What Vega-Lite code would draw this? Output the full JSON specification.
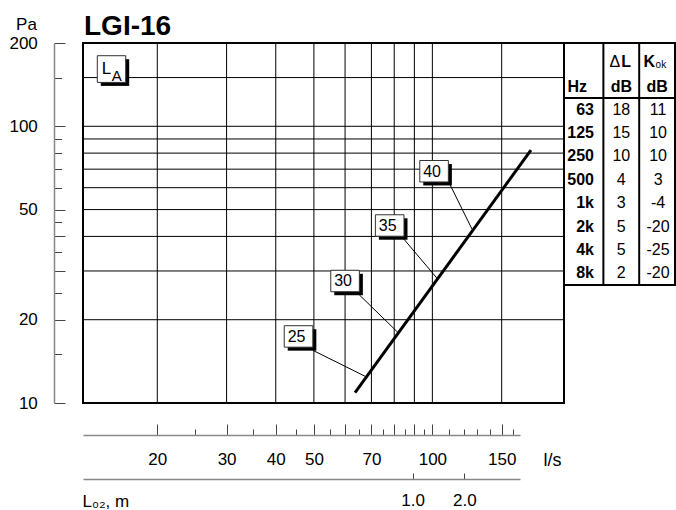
{
  "$schema": "https://vega.github.io/schema/vega-lite/v6.json",
  "background": "white",
  "padding": {"left": 7, "top": 12, "right": 0, "bottom": 3},
  "spacing": 0,
  "bounds": "flush",
  "datasets": {
    "gridQ": [{"Q": 20}, {"Q": 30}, {"Q": 40}, {"Q": 50}, {"Q": 60}, {"Q": 70}, {"Q": 80}, {"Q": 90}, {"Q": 100}, {"Q": 150}],
    "gridP": [{"P": 20}, {"P": 30}, {"P": 40}, {"P": 50}, {"P": 60}, {"P": 70}, {"P": 80}, {"P": 90}, {"P": 100}, {"P": 150}],
    "curve": [{"Q": 63.6, "P": 10.9}, {"Q": 178, "P": 82}],
    "tags": [
      {"tag": "25", "Q": 45.7, "P": 17.4, "Qa": 49.7, "Pa": 15.5, "Qb": 67.4, "Pb": 12.5},
      {"tag": "30", "Q": 60.0, "P": 27.6, "Qa": 65.2, "Pa": 24.6, "Qb": 81.7, "Pb": 18.0},
      {"tag": "35", "Q": 77.9, "P": 43.8, "Qa": 84.4, "Pa": 39.3, "Qb": 102.6, "Pb": 28.3},
      {"tag": "40", "Q": 101, "P": 68.8, "Qa": 110.9, "Pa": 61.5, "Qb": 126.1, "Pb": 42.5}
    ],
    "la": [{"Q": 15.3, "P": 161, "main": "L", "sub": "A"}],
    "table": [
      {"hz": "63", "dL": "18", "kok": "11"},
      {"hz": "125", "dL": "15", "kok": "10"},
      {"hz": "250", "dL": "10", "kok": "10"},
      {"hz": "500", "dL": "4", "kok": "3"},
      {"hz": "1k", "dL": "3", "kok": "-4"},
      {"hz": "2k", "dL": "5", "kok": "-20"},
      {"hz": "4k", "dL": "5", "kok": "-25"},
      {"hz": "8k", "dL": "2", "kok": "-20"}
    ],
    "dividers": [{"c": "dL"}, {"c": "Kok"}]
  },
  "hconcat": [
    {
      "width": 481,
      "height": 360,
      "title": {"text": "LGI-16", "anchor": "start", "frame": "group", "fontSize": 28, "fontWeight": "bold", "color": "black", "baseline": "alphabetic", "offset": -48, "dx": 1},
      "resolve": {"axis": {"x": "independent", "y": "independent"}},
      "layer": [
        {
          "data": {"name": "gridQ"},
          "mark": {"type": "rule", "color": "black", "strokeWidth": 1},
          "encoding": {
            "x": {
              "field": "Q", "type": "quantitative",
              "scale": {"type": "log", "domain": [12.95, 216], "nice": false},
              "axis": {
                "orient": "bottom", "offset": 32, "grid": false,
                "values": [20, 25, 30, 35, 40, 45, 50, 55, 60, 65, 70, 75, 80, 85, 90, 95, 100, 110, 120, 130, 140, 150, 160],
                "labelExpr": "indexof([20,30,40,50,70,100,150], datum.value) >= 0 ? '' + datum.value : ''",
                "tickSize": {"condition": {"test": "indexof([20,30,40,50,60,70,80,90,100,150], datum.value) >= 0", "value": -11}, "value": -6},
                "tickColor": "#444", "tickWidth": 1,
                "domainColor": "#888", "domainWidth": 1.5, "domainDash": [437, 300],
                "labelPadding": 27.3, "labelFontSize": 17, "labelBaseline": "top", "labelAlign": "center",
                "labelOverlap": false, "labelFlush": false, "labelBound": false,
                "title": "l/s", "titleX": 460, "titleY": 30, "titleAlign": "left", "titleBaseline": "alphabetic", "titleAngle": 0,
                "titleFontSize": 18, "titleFontWeight": "normal", "titlePadding": 0
              }
            }
          }
        },
        {
          "data": {"name": "gridP"},
          "mark": {"type": "rule", "color": "black", "strokeWidth": 1},
          "encoding": {
            "y": {
              "field": "P", "type": "quantitative",
              "scale": {"type": "log", "domain": [10, 200], "nice": false},
              "axis": {
                "orient": "left", "offset": 29, "grid": false,
                "values": [10, 15, 20, 25, 30, 35, 40, 45, 50, 60, 70, 80, 90, 100, 150, 200],
                "labelExpr": "indexof([10,20,50,100,200], datum.value) >= 0 ? '' + datum.value : ''",
                "tickSize": {"condition": {"test": "indexof([10,20,30,40,50,100,200], datum.value) >= 0", "value": -11}, "value": -7.5},
                "tickColor": "#444", "tickWidth": 1,
                "domainColor": "#888", "domainWidth": 1.5,
                "labelPadding": 27.7, "labelFontSize": 17, "labelAlign": "right", "labelBaseline": "middle",
                "labelOverlap": false, "labelFlush": false, "labelBound": false,
                "title": "Pa", "titleAngle": 0, "titleX": -28, "titleY": -19, "titleAlign": "center", "titleBaseline": "middle",
                "titleFontSize": 17, "titleFontWeight": "normal", "titlePadding": 0
              }
            }
          }
        },
        {
          "data": {"name": "curve"},
          "mark": {"type": "line", "color": "black", "strokeWidth": 3},
          "encoding": {
            "x": {
              "field": "Q", "type": "quantitative",
              "axis": {
                "orient": "bottom", "offset": 76, "grid": false,
                "values": [89.1, 120.6],
                "labelExpr": "datum.value < 100 ? '1.0' : '2.0'",
                "tickSize": -6, "tickColor": "#444", "tickWidth": 1,
                "domainColor": "#888", "domainWidth": 1.5, "domainDash": [437, 300],
                "labelPadding": 19.8, "labelFontSize": 17, "labelBaseline": "top", "labelAlign": "center",
                "labelOverlap": false, "labelFlush": false, "labelBound": false,
                "title": "L₀₂, m", "titleX": -1, "titleY": 27, "titleAlign": "left", "titleBaseline": "alphabetic", "titleAngle": 0,
                "titleFontSize": 17, "titleFontWeight": "normal", "titlePadding": 0
              }
            },
            "y": {"field": "P", "type": "quantitative", "axis": null}
          }
        },
        {
          "data": {"name": "tags"},
          "mark": {"type": "rule", "color": "black", "strokeWidth": 1},
          "encoding": {
            "x": {"field": "Qa", "type": "quantitative", "axis": null},
            "y": {"field": "Pa", "type": "quantitative", "axis": null},
            "x2": {"field": "Qb"},
            "y2": {"field": "Pb"}
          }
        },
        {
          "data": {"name": "tags"},
          "mark": {"type": "point", "shape": "M-0.755,-0.505L1.245,-0.505L1.245,0.995L-0.755,0.995Z", "size": 818, "filled": true, "fill": "black", "strokeWidth": 0, "opacity": 1},
          "encoding": {
            "x": {"field": "Q", "type": "quantitative", "axis": null},
            "y": {"field": "P", "type": "quantitative", "axis": null}
          }
        },
        {
          "data": {"name": "tags"},
          "mark": {"type": "point", "shape": "M-1,-0.75L1,-0.75L1,0.75L-1,0.75Z", "size": 818, "filled": true, "fill": "white", "stroke": "#333", "strokeWidth": 1, "opacity": 1},
          "encoding": {
            "x": {"field": "Q", "type": "quantitative", "axis": null},
            "y": {"field": "P", "type": "quantitative", "axis": null}
          }
        },
        {
          "data": {"name": "tags"},
          "mark": {"type": "text", "fontSize": 16, "dx": -2, "dy": 0.5, "color": "black"},
          "encoding": {
            "x": {"field": "Q", "type": "quantitative", "axis": null},
            "y": {"field": "P", "type": "quantitative", "axis": null},
            "text": {"field": "tag"}
          }
        },
        {
          "data": {"name": "la"},
          "mark": {"type": "point", "shape": "M-0.755,-0.695L1.245,-0.695L1.245,1.185L-0.755,1.185Z", "size": 807, "filled": true, "fill": "black", "strokeWidth": 0, "opacity": 1},
          "encoding": {
            "x": {"field": "Q", "type": "quantitative", "axis": null},
            "y": {"field": "P", "type": "quantitative", "axis": null}
          }
        },
        {
          "data": {"name": "la"},
          "mark": {"type": "point", "shape": "M-1,-0.94L1,-0.94L1,0.94L-1,0.94Z", "size": 807, "filled": true, "fill": "white", "stroke": "#333", "strokeWidth": 1, "opacity": 1},
          "encoding": {
            "x": {"field": "Q", "type": "quantitative", "axis": null},
            "y": {"field": "P", "type": "quantitative", "axis": null}
          }
        },
        {
          "data": {"name": "la"},
          "mark": {"type": "text", "fontSize": 17, "dx": -5, "dy": 0.3, "color": "black"},
          "encoding": {
            "x": {"field": "Q", "type": "quantitative", "axis": null},
            "y": {"field": "P", "type": "quantitative", "axis": null},
            "text": {"field": "main"}
          }
        },
        {
          "data": {"name": "la"},
          "mark": {"type": "text", "fontSize": 15, "dx": 5.2, "dy": 6.8, "color": "black"},
          "encoding": {
            "x": {"field": "Q", "type": "quantitative", "axis": null},
            "y": {"field": "P", "type": "quantitative", "axis": null},
            "text": {"field": "sub"}
          }
        }
      ]
    },
    {
      "vconcat": [
        {
          "width": 111,
          "height": 55,
          "layer": [
            {
              "data": {"name": "dividers"},
              "mark": {"type": "rule", "color": "black", "strokeWidth": 2},
              "encoding": {
                "x": {"field": "c", "type": "nominal", "bandPosition": 0, "axis": null,
                      "scale": {"type": "band", "domain": ["Hz", "dL", "Kok"], "paddingInner": 0, "paddingOuter": 0.05, "align": 1}}
              }
            },
            {
              "data": {"values": [{"t": "Hz", "c": "Hz"}]},
              "mark": {"type": "text", "fontSize": 16, "fontWeight": "bold", "align": "left", "dx": -18, "dy": 2.9},
              "encoding": {
                "x": {"field": "c", "type": "nominal", "axis": null},
                "y": {"datum": "h2", "type": "ordinal", "axis": null, "scale": {"type": "band", "domain": ["h1", "h2"], "paddingInner": 0, "paddingOuter": 0}},
                "text": {"field": "t"}
              }
            },
            {
              "data": {"values": [{"t": "dB", "c": "dL"}, {"t": "dB", "c": "Kok"}]},
              "mark": {"type": "text", "fontSize": 16, "fontWeight": "bold", "dy": 2.9},
              "encoding": {
                "x": {"field": "c", "type": "nominal", "axis": null},
                "y": {"datum": "h2", "type": "ordinal", "axis": null},
                "text": {"field": "t"}
              }
            },
            {
              "data": {"values": [{"t": "Δ", "c": "dL"}]},
              "mark": {"type": "text", "fontSize": 16, "align": "right", "dx": -1, "dy": 5},
              "encoding": {
                "x": {"field": "c", "type": "nominal", "axis": null},
                "y": {"datum": "h1", "type": "ordinal", "axis": null},
                "text": {"field": "t"}
              }
            },
            {
              "data": {"values": [{"t": "L", "c": "dL"}]},
              "mark": {"type": "text", "fontSize": 16, "fontWeight": "bold", "align": "left", "dx": 0, "dy": 5},
              "encoding": {
                "x": {"field": "c", "type": "nominal", "axis": null},
                "y": {"datum": "h1", "type": "ordinal", "axis": null},
                "text": {"field": "t"}
              }
            },
            {
              "data": {"values": [{"t": "K", "c": "Kok"}]},
              "mark": {"type": "text", "fontSize": 16, "fontWeight": "bold", "align": "right", "dx": -2, "dy": 5},
              "encoding": {
                "x": {"field": "c", "type": "nominal", "axis": null},
                "y": {"datum": "h1", "type": "ordinal", "axis": null},
                "text": {"field": "t"}
              }
            },
            {
              "data": {"values": [{"t": "ok", "c": "Kok"}]},
              "mark": {"type": "text", "fontSize": 10, "align": "left", "dx": -1.5, "dy": 7.9},
              "encoding": {
                "x": {"field": "c", "type": "nominal", "axis": null},
                "y": {"datum": "h1", "type": "ordinal", "axis": null},
                "text": {"field": "t"}
              }
            }
          ]
        },
        {
          "width": 111,
          "height": 187,
          "data": {"name": "table"},
          "layer": [
            {
              "data": {"name": "dividers"},
              "mark": {"type": "rule", "color": "black", "strokeWidth": 2},
              "encoding": {
                "x": {"field": "c", "type": "nominal", "bandPosition": 0, "axis": null,
                      "scale": {"type": "band", "domain": ["Hz", "dL", "Kok"], "paddingInner": 0, "paddingOuter": 0.05, "align": 1}}
              }
            },
            {
              "mark": {"type": "text", "fontSize": 16, "fontWeight": "bold", "align": "right", "dx": 8.5, "dy": 0},
              "encoding": {
                "x": {"datum": "Hz", "type": "nominal", "axis": null},
                "y": {"field": "hz", "type": "ordinal", "sort": null, "axis": null, "scale": {"type": "band", "paddingInner": 0, "paddingOuter": 0}},
                "text": {"field": "hz"}
              }
            },
            {
              "mark": {"type": "text", "fontSize": 16, "dy": 0},
              "encoding": {
                "x": {"datum": "dL", "type": "nominal", "axis": null},
                "y": {"field": "hz", "type": "ordinal", "sort": null, "axis": null},
                "text": {"field": "dL"}
              }
            },
            {
              "mark": {"type": "text", "fontSize": 16, "dx": 1, "dy": 0},
              "encoding": {
                "x": {"datum": "Kok", "type": "nominal", "axis": null},
                "y": {"field": "hz", "type": "ordinal", "sort": null, "axis": null},
                "text": {"field": "kok"}
              }
            }
          ]
        }
      ],
      "spacing": 0,
      "bounds": "flush"
    }
  ],
  "config": {
    "font": "Liberation Sans",
    "view": {"stroke": "black", "strokeWidth": 2},
    "axis": {"labelColor": "black", "titleColor": "black", "labelFont": "Liberation Sans", "titleFont": "Liberation Sans"},
    "text": {"font": "Liberation Sans", "color": "black"},
    "title": {"font": "Liberation Sans", "color": "black"}
  }
}
